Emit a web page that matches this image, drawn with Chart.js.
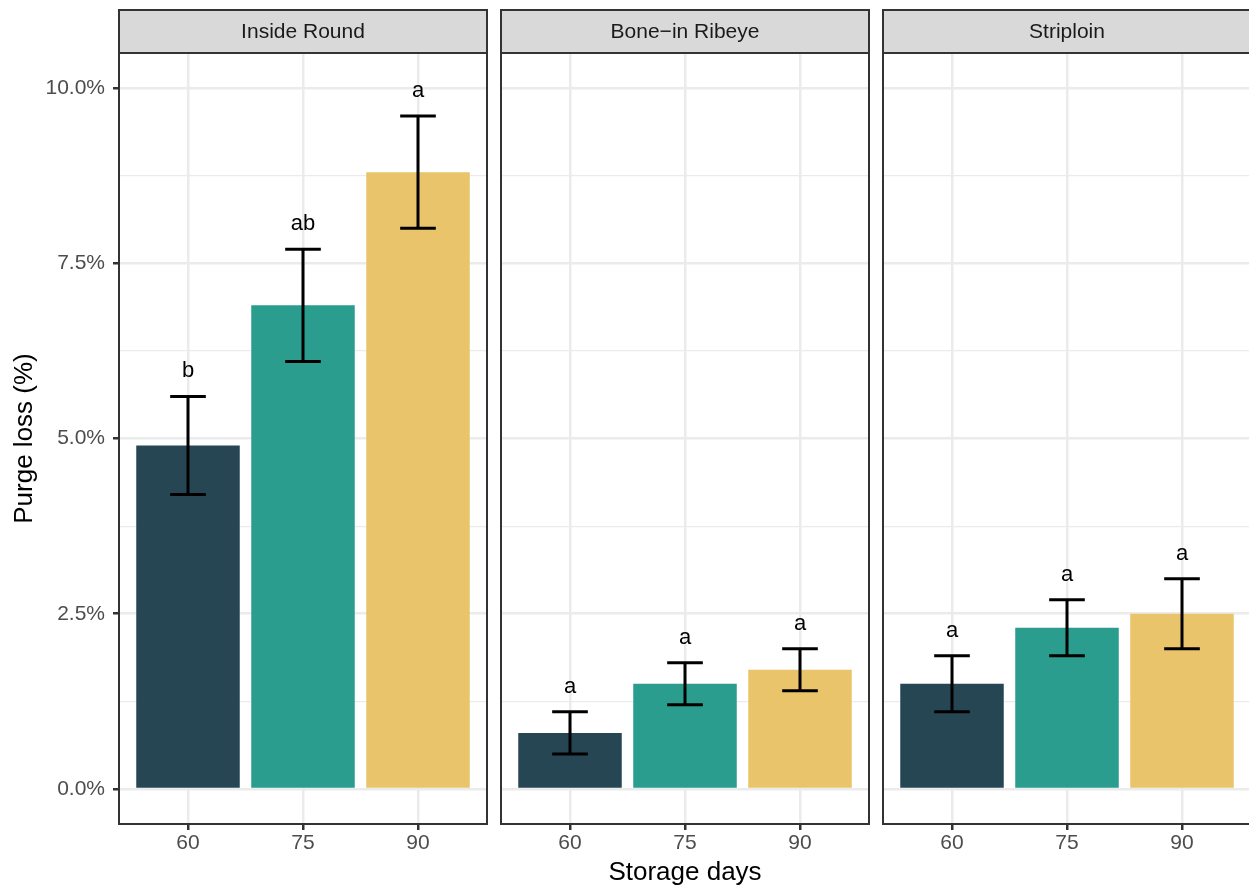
<!DOCTYPE html>
<html>
<head>
<meta charset="utf-8">
<title>Purge loss by storage days</title>
<script src="https://cdn.jsdelivr.net/npm/chart.js@4.4.1/dist/chart.umd.min.js"></script>
<style>
  html, body { margin: 0; padding: 0; background: #ffffff; }
  #wrap { position: relative; width: 1249px; height: 890px; overflow: hidden; background: #ffffff; }
  #wrap canvas { position: absolute; top: 0; }
</style>
</head>
<body>
<div id="wrap">
  <canvas id="p0"></canvas>
  <canvas id="p1"></canvas>
  <canvas id="p2"></canvas>
</div>
<script>
// ---- data ----
const cuts = ['Inside Round', 'Bone\u2212in Ribeye', 'Striploin'];
const storageDays = ['60', '75', '90'];
const dayColors = ['#264653', '#2a9d8f', '#e9c46a'];

const insideRoundMean = [4.9, 6.9, 8.8];
const insideRoundLow  = [4.2, 6.1, 8.0];
const insideRoundHigh = [5.6, 7.7, 9.6];
const insideRoundGroups = ['b', 'ab', 'a'];

const ribeyeMean = [0.8, 1.5, 1.7];
const ribeyeLow  = [0.5, 1.2, 1.4];
const ribeyeHigh = [1.1, 1.8, 2.0];
const ribeyeGroups = ['a', 'a', 'a'];

const striploinMean = [1.5, 2.3, 2.5];
const striploinLow  = [1.1, 1.9, 2.0];
const striploinHigh = [1.9, 2.7, 3.0];
const striploinGroups = ['a', 'a', 'a'];

const yMajorTicks = [0, 2.5, 5, 7.5, 10];
const yTickLabels = ['0.0%', '2.5%', '5.0%', '7.5%', '10.0%'];
const yMinorTicks = [1.25, 3.75, 6.25, 8.75];

// ---- layout ----
const FONT = '"Liberation Sans", Arial, Helvetica, sans-serif';
const H = 890;
const PLOT_TOP = 53;
const PLOT_BOTTOM = 824;
const STRIP_TOP = 10;
const PANEL_W = 368;
const PANEL_LEFT = [119, 501, 883];
const PAD = 2;

const panels = [
  { mean: insideRoundMean, low: insideRoundLow, high: insideRoundHigh, groups: insideRoundGroups },
  { mean: ribeyeMean, low: ribeyeLow, high: ribeyeHigh, groups: ribeyeGroups },
  { mean: striploinMean, low: striploinLow, high: striploinHigh, groups: striploinGroups }
];

// strip header above each panel
const stripPlugin = {
  id: 'strip',
  beforeDraw(chart, args, opts) {
    const { ctx, chartArea } = chart;
    ctx.save();
    ctx.fillStyle = '#d9d9d9';
    ctx.fillRect(chartArea.left, STRIP_TOP, chartArea.right - chartArea.left, PLOT_TOP - STRIP_TOP);
    ctx.strokeStyle = '#333333';
    ctx.lineWidth = 2;
    ctx.strokeRect(chartArea.left, STRIP_TOP, chartArea.right - chartArea.left, PLOT_TOP - STRIP_TOP);
    ctx.fillStyle = '#1a1a1a';
    ctx.font = '21px ' + FONT;
    ctx.textAlign = 'center';
    ctx.textBaseline = 'middle';
    ctx.fillText(opts.text, (chartArea.left + chartArea.right) / 2, (STRIP_TOP + PLOT_TOP) / 2 + 1);
    ctx.restore();
  }
};

// error bars and significance letters
const errorBarPlugin = {
  id: 'errbars',
  afterDatasetsDraw(chart, args, opts) {
    const { ctx } = chart;
    const xs = chart.scales.x, ys = chart.scales.y;
    const halfW = 0.155;
    ctx.save();
    ctx.strokeStyle = '#000000';
    ctx.lineWidth = 3;
    ctx.lineCap = 'butt';
    opts.low.forEach((lo, i) => {
      const hi = opts.high[i];
      const xc = xs.getPixelForValue(i);
      const xl = xs.getPixelForValue(i - halfW);
      const xr = xs.getPixelForValue(i + halfW);
      const yl = ys.getPixelForValue(lo);
      const yh = ys.getPixelForValue(hi);
      ctx.beginPath();
      ctx.moveTo(xc, yh); ctx.lineTo(xc, yl);
      ctx.moveTo(xl, yh); ctx.lineTo(xr, yh);
      ctx.moveTo(xl, yl); ctx.lineTo(xr, yl);
      ctx.stroke();
    });
    ctx.fillStyle = '#000000';
    ctx.font = '22px ' + FONT;
    ctx.textAlign = 'center';
    ctx.textBaseline = 'alphabetic';
    opts.groups.forEach((g, i) => {
      ctx.fillText(g, xs.getPixelForValue(i), ys.getPixelForValue(opts.high[i]) - 19);
    });
    ctx.restore();
  }
};

// panel frame drawn on top
const borderPlugin = {
  id: 'frame',
  afterDraw(chart) {
    const { ctx, chartArea } = chart;
    ctx.save();
    ctx.strokeStyle = '#333333';
    ctx.lineWidth = 2;
    ctx.strokeRect(chartArea.left, chartArea.top, chartArea.right - chartArea.left, chartArea.bottom - chartArea.top);
    ctx.restore();
  }
};

const isMajor = v => yMajorTicks.some(t => Math.abs(t - v) < 1e-9);

panels.forEach((p, k) => {
  const canvas = document.getElementById('p' + k);
  const first = k === 0;
  const canvasLeft = first ? 0 : PANEL_LEFT[k] - PAD;
  const canvasW = first ? PANEL_LEFT[0] + PANEL_W + PAD : PANEL_W + 2 * PAD;
  canvas.width = canvasW;
  canvas.height = H;
  canvas.style.left = canvasLeft + 'px';
  canvas.style.width = canvasW + 'px';
  canvas.style.height = H + 'px';

  new Chart(canvas, {
    type: 'bar',
    data: {
      datasets: [{
        data: p.mean.map((v, i) => ({ x: i, y: v })),
        backgroundColor: dayColors,
        borderWidth: 0,
        barPercentage: 0.9,
        categoryPercentage: 1.0
      }]
    },
    options: {
      responsive: false,
      animation: false,
      devicePixelRatio: 1,
      layout: { padding: { top: PLOT_TOP, left: first ? 0 : PAD, right: PAD, bottom: 0 } },
      plugins: {
        legend: { display: false },
        tooltip: { enabled: false },
        strip: { text: cuts[k] },
        errbars: { low: p.low, high: p.high, groups: p.groups }
      },
      scales: {
        x: {
          type: 'linear',
          offset: false,
          min: -0.6,
          max: 2.6,
          afterBuildTicks: s => { s.ticks = storageDays.map((d, i) => ({ value: i })); },
          afterFit: s => { s.height = H - PLOT_BOTTOM; },
          ticks: {
            callback: v => storageDays[v],
            color: '#4d4d4d',
            font: { family: FONT, size: 21 },
            padding: 1,
            autoSkip: false,
            maxRotation: 0
          },
          grid: {
            offset: false,
            color: '#ebebeb',
            lineWidth: 2.5,
            drawTicks: true,
            tickLength: 6,
            tickColor: '#333333',
            tickWidth: 2.5
          },
          border: { display: false },
          title: {
            display: k === 1,
            text: 'Storage days',
            color: '#000000',
            font: { family: FONT, size: 26 },
            padding: { top: 0, bottom: 2 }
          }
        },
        y: {
          type: 'linear',
          min: -0.5,
          max: 10.5,
          afterBuildTicks: s => {
            s.ticks = yMajorTicks.concat(yMinorTicks).sort((a, b) => a - b).map(v => ({ value: v }));
          },
          afterFit: s => { s.width = first ? PANEL_LEFT[0] : 0; },
          ticks: {
            display: first,
            callback: v => { const j = yMajorTicks.indexOf(v); return j >= 0 ? yTickLabels[j] : ''; },
            color: '#4d4d4d',
            font: { family: FONT, size: 21 },
            padding: 8,
            autoSkip: false
          },
          grid: {
            color: '#ebebeb',
            lineWidth: c => isMajor(c.tick.value) ? 2.5 : 1.2,
            drawTicks: first,
            tickLength: 6,
            tickColor: c => isMajor(c.tick.value) ? '#333333' : 'rgba(0,0,0,0)',
            tickWidth: 2.5
          },
          border: { display: false },
          title: {
            display: first,
            text: 'Purge loss (%)',
            color: '#000000',
            font: { family: FONT, size: 26 },
            padding: { top: 9, bottom: 0 }
          }
        }
      }
    },
    plugins: [stripPlugin, errorBarPlugin, borderPlugin]
  });
});
</script>
</body>
</html>
